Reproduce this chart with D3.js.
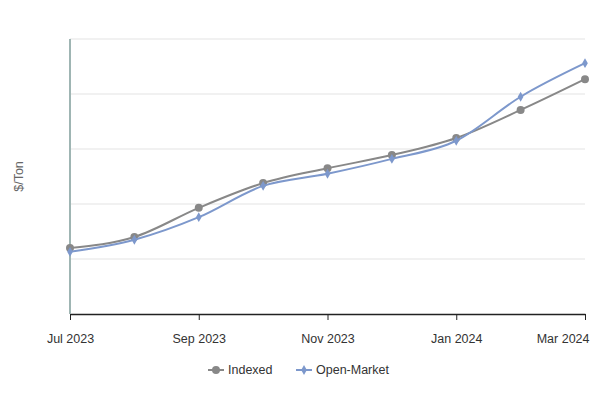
<!DOCTYPE html>
<html><head><meta charset="utf-8">
<script src="https://cdn.jsdelivr.net/npm/d3@7"></script>
<style>body{margin:0;background:#fff}</style></head>
<body><svg id="c" width="600" height="400"></svg>
<script>
const months = ["Jul 2023","Aug 2023","Sep 2023","Oct 2023","Nov 2023","Dec 2023","Jan 2024","Feb 2024","Mar 2024"];
const tickLabels = ["Jul 2023","Sep 2023","Nov 2023","Jan 2024","Mar 2024"];
const indexed = [1.2,1.4,1.93,2.38,2.65,2.89,3.2,3.71,4.27];
const openMarket = [1.13,1.35,1.76,2.33,2.55,2.82,3.15,3.95,4.56];
const yTicks = [0,1,2,3,4,5];

const FONT = "'Liberation Sans', Arial, sans-serif";
const svg = d3.select("#c");
const m = {l:70, r:15, t:39, b:86};
const W = 600, H = 400;
const x = d3.scalePoint().domain(months).range([m.l, W-m.r]);
const y = d3.scaleLinear().domain([0,5]).range([H-m.b, m.t]);

svg.append("g").selectAll("line").data(yTicks.slice(1)).join("line")
  .attr("x1", m.l).attr("x2", W-m.r).attr("y1", d=>y(d)).attr("y2", d=>y(d))
  .attr("stroke", "#e3e3e3");

const xa = svg.append("g").attr("transform", `translate(0,${y(0)})`)
  .call(d3.axisBottom(x).tickValues(tickLabels).tickSize(6).tickSizeOuter(0));
xa.select(".domain").attr("stroke","#222").attr("stroke-width",1.5);
xa.selectAll(".tick line").attr("stroke","#222");
xa.selectAll("text").attr("font-family",FONT).attr("font-size",12.5).attr("fill","#333").attr("dy","1.6em");
xa.selectAll(".tick").filter(d=>d==="Mar 2024").select("text").attr("text-anchor","end").attr("dx",4);

svg.append("line").attr("x1",m.l).attr("x2",m.l).attr("y1",m.t).attr("y2",y(0))
  .attr("stroke","#9fb5b3").attr("stroke-width",2);

svg.append("text").attr("transform",`translate(23,${(m.t+y(0))/2}) rotate(-90)`)
  .attr("text-anchor","middle").attr("font-family",FONT).attr("font-size",12.5).attr("fill","#666").text("$/Ton");

const line = d3.line().x((d,i)=>x(months[i])).y(d=>y(d)).curve(d3.curveMonotoneX);
const series = [
  {name:"Indexed", data:indexed, color:"#888888", sym:d3.symbolCircle, size:50},
  {name:"Open-Market", data:openMarket, color:"#7d98cc", sym:d3.symbolDiamond, size:28}
];
series.forEach(s=>{
  svg.append("path").datum(s.data).attr("d",line).attr("fill","none").attr("stroke",s.color).attr("stroke-width",2);
  svg.append("g").selectAll("path").data(s.data).join("path")
    .attr("d", d3.symbol().type(s.sym).size(s.size))
    .attr("transform",(d,i)=>`translate(${x(months[i])},${y(d)})`).attr("fill",s.color);
});

const lx = [208, 296];
series.forEach((s,i)=>{
  const g = svg.append("g").attr("transform",`translate(${lx[i]},370)`);
  g.append("line").attr("x1",0).attr("x2",16).attr("stroke",s.color).attr("stroke-width",2);
  g.append("path").attr("d",d3.symbol().type(s.sym).size(s.size)).attr("transform","translate(8,0)").attr("fill",s.color);
  g.append("text").attr("x",20).attr("dy","0.35em").attr("font-family",FONT).attr("font-size",12.5).attr("fill","#333").text(s.name);
});
</script></body></html>
